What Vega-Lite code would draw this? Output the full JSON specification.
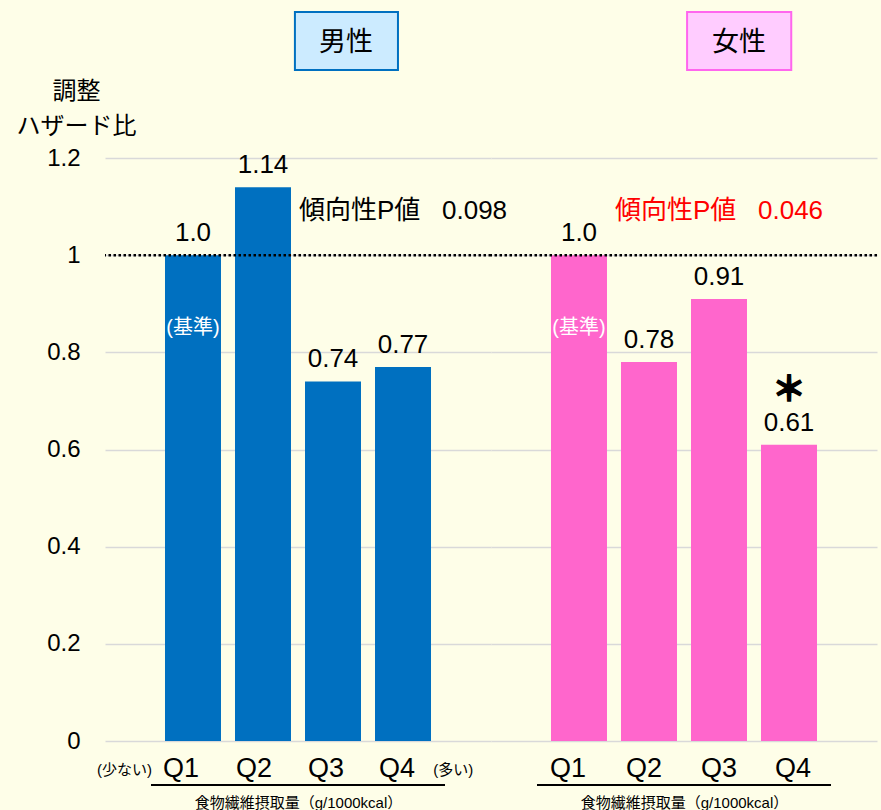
{
  "$schema": "https://vega.github.io/schema/vega-lite/v6.json",
  "background": "#FEFEE8",
  "padding": {"left": 16, "top": 11, "right": 4, "bottom": 0},
  "config": {
    "font": "Liberation Sans, Noto Sans CJK JP, sans-serif",
    "view": {"stroke": null},
    "concat": {"spacing": 0},
    "text": {"color": "#000000"}
  },
  "bounds": "flush",
  "spacing": 0,
  "datasets": {
    "bars": [
      {"sex": "男性", "q": "Q1", "hr": 1.0, "label": "1.0"},
      {"sex": "男性", "q": "Q2", "hr": 1.14, "label": "1.14"},
      {"sex": "男性", "q": "Q3", "hr": 0.74, "label": "0.74"},
      {"sex": "男性", "q": "Q4", "hr": 0.77, "label": "0.77"},
      {"sex": "女性", "q": "Q1", "hr": 1.0, "label": "1.0"},
      {"sex": "女性", "q": "Q2", "hr": 0.78, "label": "0.78"},
      {"sex": "女性", "q": "Q3", "hr": 0.91, "label": "0.91"},
      {"sex": "女性", "q": "Q4", "hr": 0.61, "label": "0.61"}
    ],
    "one": [{"k": 1}]
  },
  "hconcat": [
    {
      "width": 386,
      "height": 583,
      "data": {"name": "bars"},
      "transform": [{"filter": "datum.sex == '男性'"}],
      "layer": [
        {
          "mark": {"type": "bar", "color": "#0070C0"},
          "encoding": {
            "x": {
              "field": "q", "type": "nominal",
              "scale": {"type": "band", "domain": ["Q1", "Q2", "Q3", "Q4"], "paddingInner": 0.2, "paddingOuter": 0.857},
              "axis": {
                "title": "食物繊維摂取量（g/1000kcal）", "titleFontSize": 15, "titleFontWeight": "normal", "titleColor": "#000000", "titlePadding": 14,
                "labelFontSize": 27, "labelColor": "#000000", "labelAngle": 0, "labelPadding": 14,
                "labelOffset": {"condition": [{"test": "datum.value == 'Q1'", "value": -12}, {"test": "datum.value == 'Q2'", "value": -9}, {"test": "datum.value == 'Q3'", "value": -7}], "value": -6},
                "domain": false, "ticks": false, "grid": false
              }
            },
            "y": {
              "field": "hr", "type": "quantitative",
              "scale": {"domain": [0, 1.2], "nice": false, "zero": true},
              "axis": {
                "values": [0, 0.2, 0.4, 0.6, 0.8, 1, 1.2], "format": ".2~f",
                "labelFontSize": 24, "labelColor": "#000000", "labelPadding": 25,
                "domain": false, "ticks": false, "tickSize": 0,
                "grid": true, "gridColor": "#D9D9D9", "gridWidth": 1.5,
                "title": ["調整", "ハザード比"], "titleAngle": 0, "titleFontSize": 24, "titleFontWeight": "normal", "titleColor": "#000000",
                "titleAlign": "center", "titleBaseline": "middle", "titleX": -29, "titleY": -67, "titleLineHeight": 35
              }
            }
          }
        },
        {
          "mark": {"type": "text", "fontSize": 26, "baseline": "alphabetic", "dy": -14},
          "encoding": {
            "x": {"field": "q", "type": "nominal"},
            "y": {"field": "hr", "type": "quantitative"},
            "text": {"field": "label"}
          }
        },
        {
          "transform": [{"filter": "datum.q == 'Q1'"}],
          "mark": {"type": "text", "fontSize": 20, "color": "#FFFFFF", "baseline": "middle", "text": "(基準)"},
          "encoding": {
            "x": {"field": "q", "type": "nominal"},
            "y": {"datum": 0.85, "type": "quantitative"}
          }
        },
        {
          "data": {"name": "one"},
          "mark": {"type": "rule", "color": "#000000", "strokeWidth": 2.5, "strokeDash": [2.5, 2.5]},
          "encoding": {"y": {"datum": 1, "type": "quantitative"}}
        },
        {
          "data": {"name": "one"},
          "mark": {"type": "rule", "color": "#000000", "strokeWidth": 2},
          "encoding": {
            "x": {"datum": "Q1", "type": "nominal", "bandPosition": -0.25},
            "x2": {"datum": "Q4", "bandPosition": 1.25},
            "y": {"datum": -0.0906, "type": "quantitative"}
          }
        },
        {
          "data": {"name": "one"},
          "mark": {"type": "text", "fontSize": 15, "align": "right", "baseline": "middle", "text": "(少ない)"},
          "encoding": {
            "x": {"datum": "Q1", "type": "nominal", "bandPosition": -0.23},
            "y": {"datum": -0.0597, "type": "quantitative"}
          }
        },
        {
          "data": {"name": "one"},
          "mark": {"type": "text", "fontSize": 15, "align": "left", "baseline": "middle", "text": "(多い)"},
          "encoding": {
            "x": {"datum": "Q4", "type": "nominal", "bandPosition": 1.04},
            "y": {"datum": -0.0597, "type": "quantitative"}
          }
        },
        {
          "data": {"name": "one"},
          "mark": {"type": "text", "fontSize": 26, "align": "center", "baseline": "middle", "text": "傾向性P値\u00a0\u00a0\u00a00.098"},
          "encoding": {
            "x": {"datum": "Q4", "type": "nominal"},
            "y": {"datum": 1.091, "type": "quantitative"}
          }
        },
        {
          "data": {"name": "one"},
          "mark": {"type": "rect", "fill": "#CCEBFF", "stroke": "#0070C0", "strokeWidth": 2},
          "encoding": {
            "x": {"datum": "Q3", "type": "nominal", "bandPosition": -0.18},
            "x2": {"datum": "Q4", "bandPosition": 0.41},
            "y": {"datum": 1.5005, "type": "quantitative"},
            "y2": {"datum": 1.3812}
          }
        },
        {
          "data": {"name": "one"},
          "mark": {"type": "text", "fontSize": 27, "align": "center", "baseline": "middle", "text": "男性"},
          "encoding": {
            "x": {"datum": "Q3", "type": "nominal", "bandPosition": 0.73},
            "y": {"datum": 1.4367, "type": "quantitative"}
          }
        }
      ]
    },
    {
      "width": 386,
      "height": 583,
      "data": {"name": "bars"},
      "transform": [{"filter": "datum.sex == '女性'"}],
      "layer": [
        {
          "mark": {"type": "bar", "color": "#FF66CC"},
          "encoding": {
            "x": {
              "field": "q", "type": "nominal",
              "scale": {"type": "band", "domain": ["Q1", "Q2", "Q3", "Q4"], "paddingInner": 0.2, "paddingOuter": 0.857},
              "axis": {
                "title": "食物繊維摂取量（g/1000kcal）", "titleFontSize": 15, "titleFontWeight": "normal", "titleColor": "#000000", "titlePadding": 14,
                "labelFontSize": 27, "labelColor": "#000000", "labelAngle": 0, "labelPadding": 14,
                "labelOffset": {"condition": [{"test": "datum.value == 'Q1'", "value": -11}, {"test": "datum.value == 'Q2'", "value": -5}, {"test": "datum.value == 'Q3'", "value": 0}], "value": 4},
                "domain": false, "ticks": false, "grid": false
              }
            },
            "y": {
              "field": "hr", "type": "quantitative",
              "scale": {"domain": [0, 1.2], "nice": false, "zero": true},
              "axis": {
                "values": [0, 0.2, 0.4, 0.6, 0.8, 1, 1.2],
                "labels": false, "domain": false, "ticks": false,
                "grid": true, "gridColor": "#D9D9D9", "gridWidth": 1.5,
                "title": null
              }
            }
          }
        },
        {
          "mark": {"type": "text", "fontSize": 26, "baseline": "alphabetic", "dy": -14},
          "encoding": {
            "x": {"field": "q", "type": "nominal"},
            "y": {"field": "hr", "type": "quantitative"},
            "text": {"field": "label"}
          }
        },
        {
          "transform": [{"filter": "datum.q == 'Q1'"}],
          "mark": {"type": "text", "fontSize": 20, "color": "#FFFFFF", "baseline": "middle", "text": "(基準)"},
          "encoding": {
            "x": {"field": "q", "type": "nominal"},
            "y": {"datum": 0.85, "type": "quantitative"}
          }
        },
        {
          "data": {"name": "one"},
          "mark": {"type": "rule", "color": "#000000", "strokeWidth": 2.5, "strokeDash": [2.5, 2.5]},
          "encoding": {"y": {"datum": 1, "type": "quantitative"}}
        },
        {
          "data": {"name": "one"},
          "mark": {"type": "rule", "color": "#000000", "strokeWidth": 2},
          "encoding": {
            "x": {"datum": "Q1", "type": "nominal", "bandPosition": -0.25},
            "x2": {"datum": "Q4", "bandPosition": 1.25},
            "y": {"datum": -0.0906, "type": "quantitative"}
          }
        },
        {
          "data": {"name": "one"},
          "mark": {"type": "text", "fontSize": 26, "align": "center", "baseline": "middle", "color": "#FF0000", "text": "傾向性P値\u00a0\u00a0\u00a00.046"},
          "encoding": {
            "x": {"datum": "Q3", "type": "nominal"},
            "y": {"datum": 1.091, "type": "quantitative"}
          }
        },
        {
          "data": {"name": "one"},
          "mark": {"type": "text", "fontSize": 34, "fontWeight": "bold", "align": "center", "baseline": "middle", "text": "＊", "stroke": "#000000", "strokeWidth": 1.5},
          "encoding": {
            "x": {"datum": "Q4", "type": "nominal"},
            "y": {"datum": 0.7204, "type": "quantitative"}
          }
        },
        {
          "data": {"name": "one"},
          "mark": {"type": "rect", "fill": "#FFCCFF", "stroke": "#FF66EE", "strokeWidth": 2},
          "encoding": {
            "x": {"datum": "Q3", "type": "nominal", "bandPosition": -0.07},
            "x2": {"datum": "Q4", "bandPosition": 0.54},
            "y": {"datum": 1.5005, "type": "quantitative"},
            "y2": {"datum": 1.3812}
          }
        },
        {
          "data": {"name": "one"},
          "mark": {"type": "text", "fontSize": 27, "align": "center", "baseline": "middle", "text": "女性"},
          "encoding": {
            "x": {"datum": "Q3", "type": "nominal", "bandPosition": 0.857},
            "y": {"datum": 1.4367, "type": "quantitative"}
          }
        }
      ]
    }
  ]
}
